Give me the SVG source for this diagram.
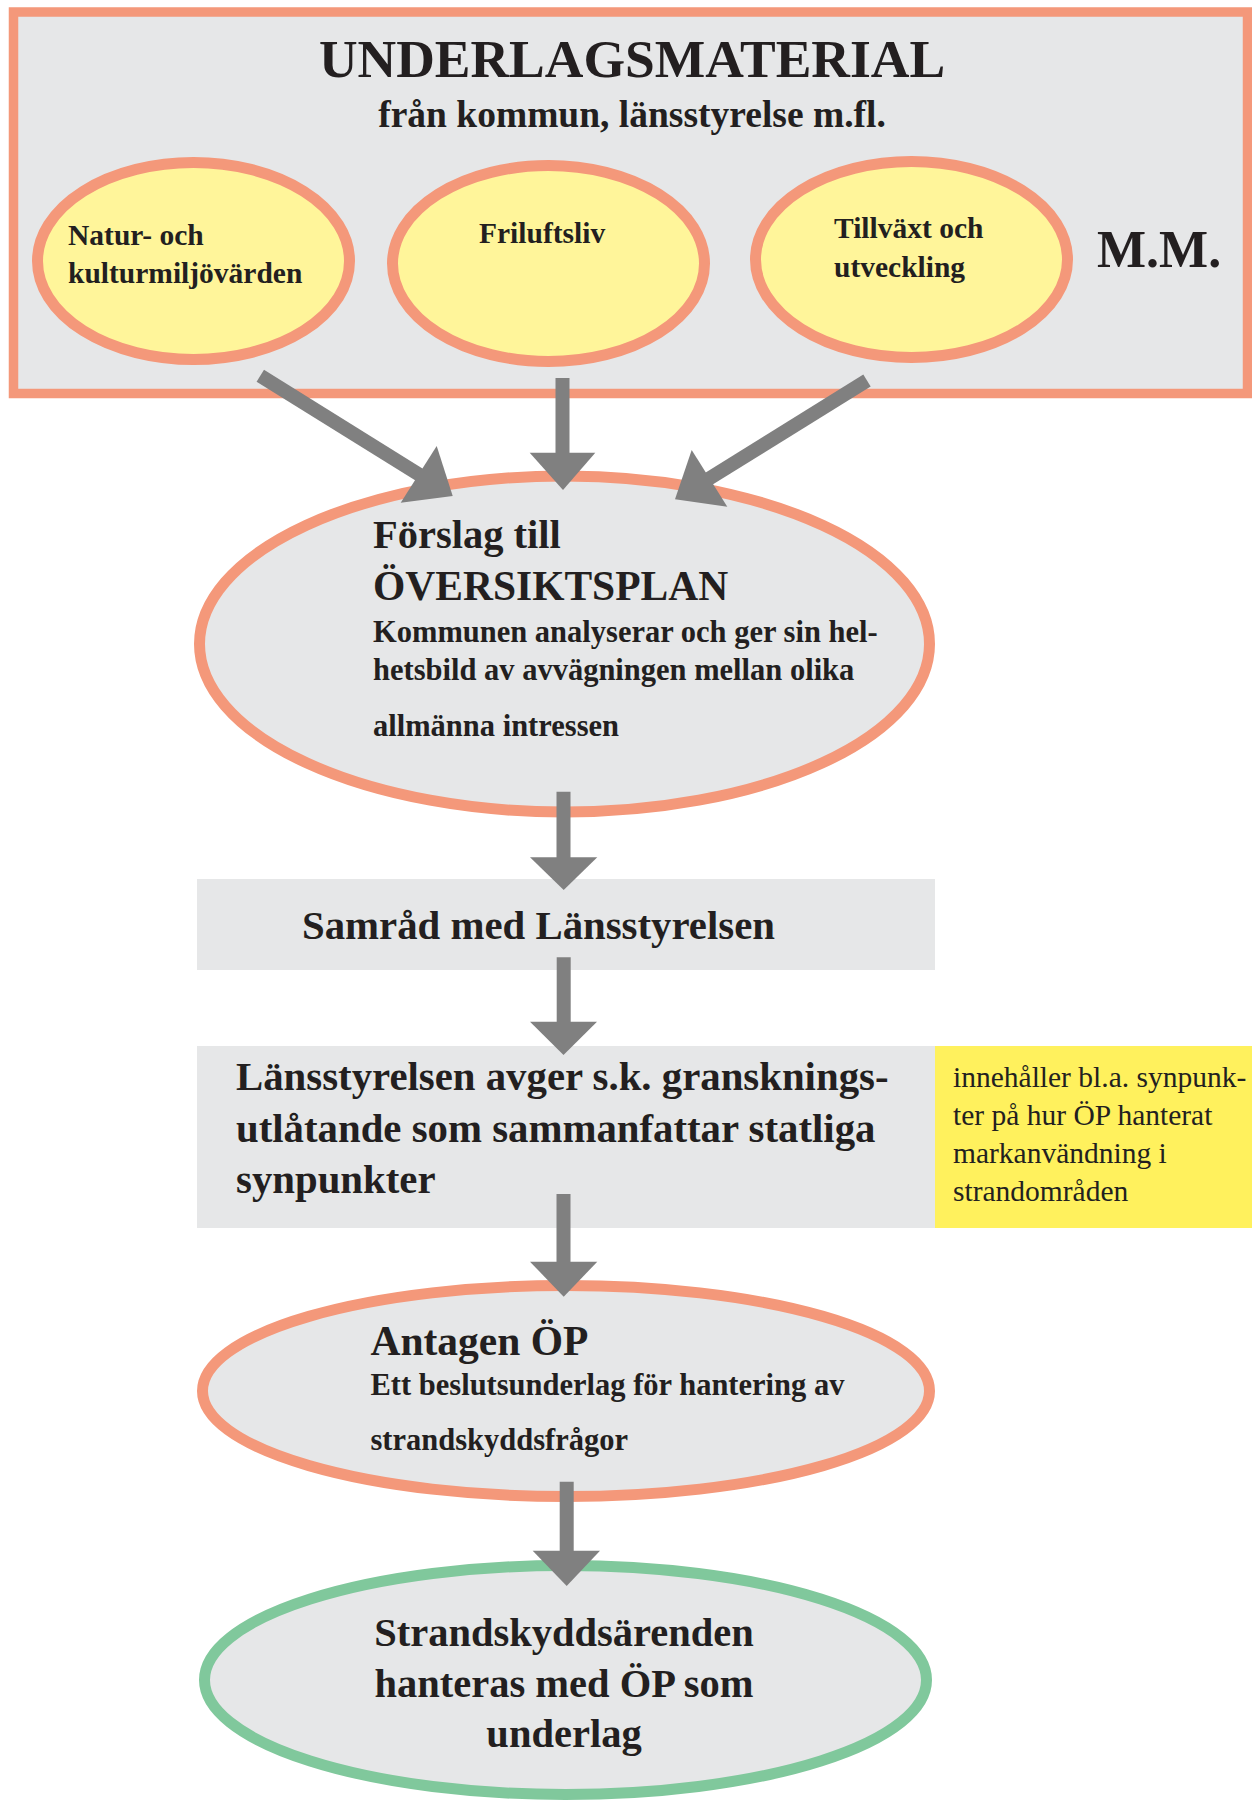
<svg xmlns="http://www.w3.org/2000/svg" width="1252" height="1800" viewBox="0 0 1252 1800">
<style>
.t{font-family:"Liberation Serif","Times New Roman",serif;font-weight:bold;fill:#231F20}
.r{font-family:"Liberation Serif","Times New Roman",serif;font-weight:normal;fill:#231F20}
.sal{stroke:#F4987A;stroke-width:11}
.gbox{fill:#E6E7E8}
.shaft{stroke:#808080;stroke-width:14;fill:none}
.head{fill:#808080}
</style>
<rect width="1252" height="1800" fill="#FFFFFF"/>
<g id="underlag">
  <rect x="13.5" y="12" width="1234" height="381.5" fill="#E6E7E8" stroke="#F4987A" stroke-width="9.5"/>
  <text class="t" x="632" y="77" font-size="53.5" text-anchor="middle">UNDERLAGSMATERIAL</text>
  <text class="t" x="632" y="127" font-size="37.5" text-anchor="middle">från kommun, länsstyrelse m.fl.</text>
  <text class="t" x="1097" y="267" font-size="52">M.M.</text>
</g>
<g id="natur">
  <ellipse cx="193.5" cy="261" rx="156" ry="98.5" fill="#FFF59A" class="sal"/>
  <text class="t" font-size="29.5"><tspan x="68" y="245">Natur- och</tspan><tspan x="68" y="283">kulturmiljövärden</tspan></text>
</g>
<g id="friluftsliv">
  <ellipse cx="548.5" cy="263.5" rx="156" ry="98" fill="#FFF59A" class="sal"/>
  <text class="t" x="479" y="243" font-size="29.5">Friluftsliv</text>
</g>
<g id="tillvaxt">
  <ellipse cx="911.5" cy="259.5" rx="156" ry="98" fill="#FFF59A" class="sal"/>
  <text class="t" font-size="29.5"><tspan x="834" y="238">Tillväxt och</tspan><tspan x="834" y="277">utveckling</tspan></text>
</g>
<g id="forslag">
  <ellipse cx="564.5" cy="644" rx="365" ry="168" fill="#E6E7E8" class="sal"/>
  <text class="t" x="373" y="548" font-size="40.5">Förslag till</text>
  <text class="t" x="373" y="600" font-size="41.5">ÖVERSIKTSPLAN</text>
  <text class="t" font-size="30.5"><tspan x="373" y="642">Kommunen analyserar och ger sin hel-</tspan><tspan x="373" y="680">hetsbild av avvägningen mellan olika</tspan><tspan x="373" y="736">allmänna intressen</tspan></text>
</g>
<g id="samrad">
  <rect x="197" y="879" width="738" height="91" class="gbox"/>
  <text class="t" x="302" y="939" font-size="40.8">Samråd med Länsstyrelsen</text>
</g>
<g id="granskning">
  <rect x="197" y="1046" width="738" height="182" class="gbox"/>
  <text class="t" font-size="40.8"><tspan x="236" y="1090">Länsstyrelsen avger s.k. gransknings-</tspan><tspan x="236" y="1142">utlåtande som sammanfattar statliga</tspan><tspan x="236" y="1193">synpunkter</tspan></text>
</g>
<g id="note">
  <rect x="935" y="1046" width="317" height="182" fill="#FFF15D"/>
  <text class="r" font-size="29.5"><tspan x="953" y="1087">innehåller bl.a. synpunk-</tspan><tspan x="953" y="1125">ter på hur ÖP hanterat</tspan><tspan x="953" y="1163">markanvändning i</tspan><tspan x="953" y="1201">strandområden</tspan></text>
</g>
<g id="antagen">
  <ellipse cx="566" cy="1391" rx="363.5" ry="105.5" fill="#E6E7E8" class="sal"/>
  <text class="t" x="370.5" y="1355" font-size="41.5">Antagen ÖP</text>
  <text class="t" font-size="30.5"><tspan x="370.5" y="1395">Ett beslutsunderlag för hantering av</tspan><tspan x="370.5" y="1450">strandskyddsfrågor</tspan></text>
</g>
<g id="strandskydd">
  <ellipse cx="565.5" cy="1680" rx="361" ry="114.5" fill="#E6E7E8" stroke="#80C89C" stroke-width="11"/>
  <text class="t" font-size="40.5" text-anchor="middle"><tspan x="564" y="1646">Strandskyddsärenden</tspan><tspan x="564" y="1697">hanteras med ÖP som</tspan><tspan x="564" y="1747">underlag</tspan></text>
</g>
<g id="connectors">
  <line class="shaft" x1="260.3" y1="375.8" x2="420.4" y2="475.4"/>
  <polygon class="head" points="436.7,446 452.7,496 400.7,502.7"/>
  <line class="shaft" x1="562.5" y1="378" x2="562.5" y2="455"/>
  <polygon class="head" points="529.7,452.7 595.3,452.7 563,490"/>
  <line class="shaft" x1="867" y1="380.5" x2="707.8" y2="479.4"/>
  <polygon class="head" points="691.7,450 727.3,506.7 675,499.3"/>
  <line class="shaft" x1="563.5" y1="791.7" x2="563.5" y2="859"/>
  <polygon class="head" points="530,857.3 597.3,857.3 563.7,890"/>
  <line class="shaft" x1="563.7" y1="957.3" x2="563.7" y2="1023"/>
  <polygon class="head" points="530,1021.7 597,1021.7 563.5,1055"/>
  <line class="shaft" x1="563.5" y1="1194" x2="563.5" y2="1263"/>
  <polygon class="head" points="530,1261.7 597.3,1261.7 563.7,1296.7"/>
  <line class="shaft" x1="566.7" y1="1481.7" x2="566.7" y2="1552"/>
  <polygon class="head" points="532.7,1550.7 600,1550.7 566.7,1586"/>
</g>
</svg>
